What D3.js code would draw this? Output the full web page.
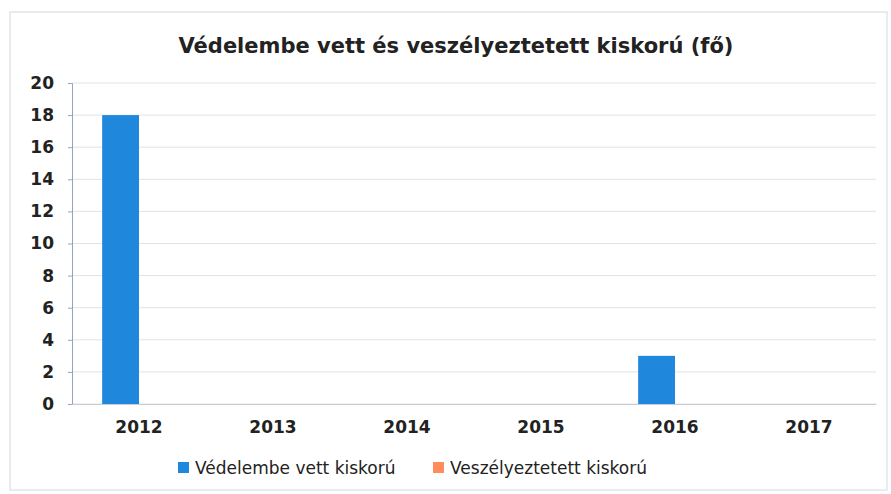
<!DOCTYPE html>
<html>
<head>
<meta charset="utf-8">
<script src="https://cdn.jsdelivr.net/npm/d3@7"></script>
<style>
  body { margin: 0; background: #fff; }
  text { font-family: "DejaVu Sans", sans-serif; }
</style>
</head>
<body>
<div id="chart"></div>
<script>
const years = ["2012", "2013", "2014", "2015", "2016", "2017"]
const seriesNames = ["Védelembe vett kiskorú", "Veszélyeztetett kiskorú"]
const vedelembe = [18, 0, 0, 0, 3, 0]
const veszelyeztetett = [0, 0, 0, 0, 0, 0]
const yTicks = [0, 2, 4, 6, 8, 10, 12, 14, 16, 18, 20]
const colors = ["#1f87dc", "#ff8c5a"]

const W = 891, H = 494
const margin = {top: 83, right: 15, bottom: 90, left: 72}
const width = W - margin.left - margin.right,
      height = H - margin.top - margin.bottom

const svg = d3.select("#chart").append("svg")
    .attr("width", W)
    .attr("height", H)

// outer frame
svg.append("rect")
    .attr("x", 10).attr("y", 12)
    .attr("width", W - 14).attr("height", H - 16)
    .attr("fill", "none")
    .attr("stroke", "#d4d8e0")

svg.append("text")
    .attr("x", 456).attr("y", 53)
    .attr("text-anchor", "middle")
    .style("font-size", "21px")
    .style("font-weight", "bold")
    .attr("fill", "#222")
    .text("Védelembe vett és veszélyeztetett kiskorú (fő)")

const g = svg.append("g")
    .attr("transform", "translate(" + margin.left + "," + margin.top + ")")

const data = years.map((y, i) => ({year: y, values: [vedelembe[i], veszelyeztetett[i]]}))

const x0 = d3.scaleBand()
    .domain(years)
    .range([0, width])
    .paddingInner(0.45)
    .paddingOuter(0.225)

const x1 = d3.scaleBand()
    .domain([0, 1])
    .range([0, x0.bandwidth()])

const y = d3.scaleLinear()
    .domain([0, 20])
    .range([height, 0])

// gridlines
g.append("g")
    .selectAll("line")
    .data(yTicks)
    .join("line")
        .attr("x1", 0).attr("x2", width)
        .attr("y1", d => y(d)).attr("y2", d => y(d))
        .attr("stroke", "#e3e3e3")
        .attr("stroke-width", 1)

// y axis
const yAxis = g.append("g")
    .call(d3.axisLeft(y).tickValues(yTicks).tickSize(4).tickPadding(14))
yAxis.select(".domain").attr("stroke", "#9aa4b8")
yAxis.selectAll(".tick line").attr("stroke", "#9aa4b8")
yAxis.selectAll("text")
    .style("font-size", "17px")
    .style("font-weight", "bold")
    .attr("fill", "#222")

// x axis
const xAxis = g.append("g")
    .attr("transform", "translate(0," + height + ")")
    .call(d3.axisBottom(x0).tickSize(0).tickPadding(17))
xAxis.select(".domain").attr("stroke", "#c8ccd6")
xAxis.selectAll("text")
    .style("font-size", "17px")
    .style("font-weight", "bold")
    .attr("fill", "#222")

// bars
g.append("g")
    .selectAll("g")
    .data(data)
    .join("g")
        .attr("transform", d => "translate(" + x0(d.year) + ",0)")
    .selectAll("rect")
    .data(d => d.values.map((v, k) => ({k: k, v: v})))
    .join("rect")
        .attr("x", d => x1(d.k))
        .attr("y", d => y(d.v))
        .attr("width", x1.bandwidth())
        .attr("height", d => height - y(d.v))
        .attr("fill", d => colors[d.k])

// legend
const legendX = [178, 433]
const legend = svg.append("g")
    .selectAll("g")
    .data(seriesNames)
    .join("g")
        .attr("transform", (d, i) => "translate(" + legendX[i] + ",468)")
legend.append("rect")
    .attr("x", 0).attr("y", -6)
    .attr("width", 11).attr("height", 11)
    .attr("fill", (d, i) => colors[i])
legend.append("text")
    .attr("x", 17).attr("y", 6)
    .style("font-size", "17px")
    .attr("fill", "#222")
    .text(d => d)
</script>
</body>
</html>
